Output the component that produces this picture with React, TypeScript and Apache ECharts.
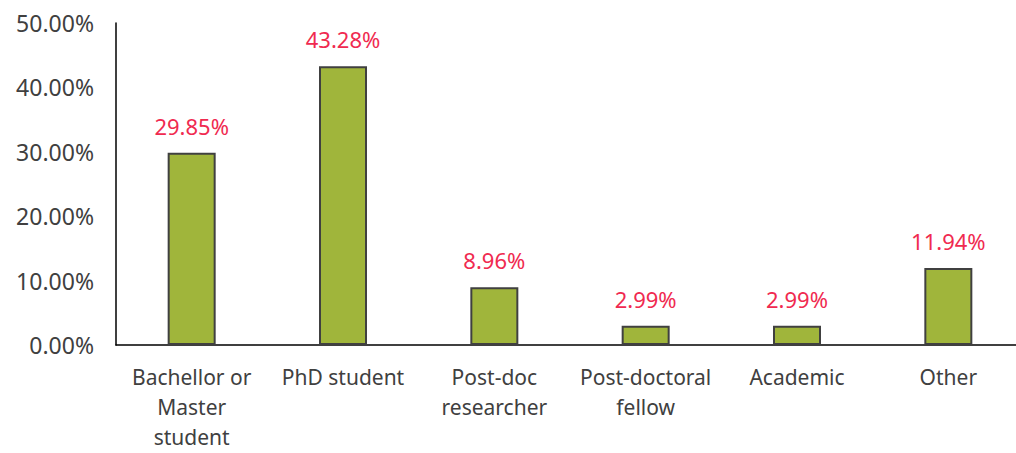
import React, { useEffect, useRef } from "react";
import * as echarts from "echarts";

const categories = [
  "Bachellor or\nMaster\nstudent",
  "PhD student",
  "Post-doc\nresearcher",
  "Post-doctoral\nfellow",
  "Academic",
  "Other",
];
const values = [29.85, 43.28, 8.96, 2.99, 2.99, 11.94];
const yTicks = [0, 10, 20, 30, 40, 50];

const FONT = "'Noto Sans', 'Liberation Sans', sans-serif";

export default function App() {
  const ref = useRef<HTMLDivElement>(null);
  useEffect(() => {
    const chart = echarts.init(ref.current!, null, { renderer: "svg" });
    chart.setOption({
      animation: false,
      grid: { left: 116, right: 0, top: 23, bottom: 108, containLabel: false },
      xAxis: {
        type: "category",
        data: categories,
        axisLine: { lineStyle: { color: "#000", width: 1.5 } },
        axisTick: { show: false },
        axisLabel: {
          color: "#404040",
          fontSize: 21,
          fontFamily: FONT,
          lineHeight: 30,
          margin: 17,
          interval: 0,
        },
      },
      yAxis: {
        type: "value",
        min: yTicks[0],
        max: yTicks[yTicks.length - 1],
        interval: 10,
        splitLine: { show: false },
        axisLine: { show: true, lineStyle: { color: "#000", width: 1.5 } },
        axisTick: { show: false },
        axisLabel: {
          color: "#404040",
          fontSize: 23,
          fontFamily: FONT,
          margin: 22,
          formatter: (v: number) => v.toFixed(2) + "%",
        },
      },
      series: [
        {
          type: "bar",
          data: values,
          barWidth: 48,
          itemStyle: { color: "#a0b53b", borderColor: "#404040", borderWidth: 2 },
          label: {
            show: true,
            position: "top",
            distance: 16,
            color: "#f02a50",
            fontSize: 22,
            fontFamily: FONT,
            formatter: (p: any) => p.value.toFixed(2) + "%",
          },
        },
      ],
    });
    return () => chart.dispose();
  }, []);
  return (
    <div
      ref={ref}
      style={{ position: "fixed", left: 0, top: 0, width: 1024, height: 453, background: "#fff" }}
    />
  );
}
